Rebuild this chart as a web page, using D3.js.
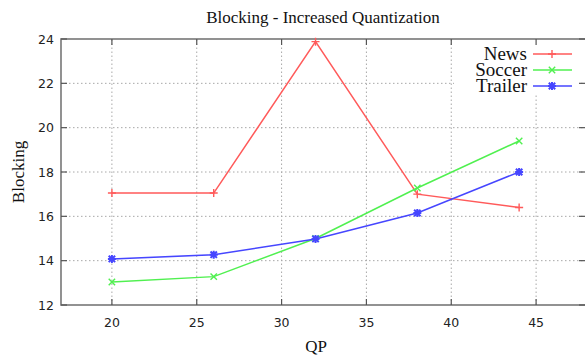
<!DOCTYPE html>
<html lang="en">
<head>
  <meta charset="UTF-8">
  <title>Blocking - Increased Quantization</title>
  <script src="https://d3js.org/d3.v7.min.js"></script>
  <style>
    body { margin: 0; background: #fff; }
    .tick-label { font-family: "DejaVu Sans", sans-serif; font-size: 12.5px; fill: #222; }
    .serif { font-family: "Liberation Serif", "Times New Roman", serif; fill: #111; }
    .grid { stroke: #a8a8a8; stroke-width: 1; stroke-dasharray: 1.5,2.5; }
  </style>
</head>
<body>
<script>
  // data
  const qp = [20, 26, 32, 38, 44];
  const news = [17.05, 17.05, 23.88, 17.0, 16.4];
  const soccer = [13.04, 13.28, 15.0, 17.28, 19.4];
  const trailer = [14.08, 14.27, 14.98, 16.15, 18.0];
  const xTicks = [20, 25, 30, 35, 40, 45];
  const yTicks = [12, 14, 16, 18, 20, 22, 24];

  const series = [
    { name: 'News', values: news, color: '#ff5a5a', mark: 'plus' },
    { name: 'Soccer', values: soccer, color: '#50f050', mark: 'cross' },
    { name: 'Trailer', values: trailer, color: '#4646ff', mark: 'star' }
  ];

  const width = 585, height = 355;
  const svg = d3.select('body').append('svg')
    .attr('width', width)
    .attr('height', height);

  const x = d3.scaleLinear().domain([17, 48]).range([61, 587]);
  const y = d3.scaleLinear().domain([12, 24]).range([305, 39]);

  // grid
  svg.append('g').selectAll('line')
    .data(xTicks)
    .enter().append('line')
    .attr('class', 'grid')
    .attr('x1', d => x(d)).attr('x2', d => x(d))
    .attr('y1', y(12)).attr('y2', y(24));
  svg.append('g').selectAll('line')
    .data(yTicks.slice(1, -1))
    .enter().append('line')
    .attr('class', 'grid')
    .attr('x1', x(17)).attr('x2', x(48))
    .attr('y1', d => y(d)).attr('y2', d => y(d));

  // key background covers the grid
  svg.append('rect')
    .attr('x', 454).attr('y', 40)
    .attr('width', 126).attr('height', 53)
    .attr('fill', '#fff');

  // frame
  svg.append('rect')
    .attr('x', x(17)).attr('y', y(24))
    .attr('width', x(48) - x(17)).attr('height', y(12) - y(24))
    .attr('fill', 'none')
    .attr('stroke', '#777')
    .attr('stroke-width', 1.6);

  // ticks, drawn inward on all four sides
  const tickLen = 6;
  const tickG = svg.append('g').attr('stroke', '#555').attr('stroke-width', 1.2);
  xTicks.forEach(t => {
    tickG.append('line').attr('x1', x(t)).attr('x2', x(t))
      .attr('y1', y(12)).attr('y2', y(12) - tickLen);
    tickG.append('line').attr('x1', x(t)).attr('x2', x(t))
      .attr('y1', y(24)).attr('y2', y(24) + tickLen);
  });
  yTicks.forEach(t => {
    tickG.append('line').attr('x1', x(17)).attr('x2', x(17) + tickLen)
      .attr('y1', y(t)).attr('y2', y(t));
    tickG.append('line').attr('x1', x(48)).attr('x2', x(48) - tickLen - 2)
      .attr('y1', y(t)).attr('y2', y(t));
  });

  // tick labels
  svg.append('g').selectAll('text')
    .data(xTicks)
    .enter().append('text')
    .attr('class', 'tick-label')
    .attr('x', d => x(d))
    .attr('y', 327)
    .attr('text-anchor', 'middle')
    .text(d => d);
  svg.append('g').selectAll('text')
    .data(yTicks)
    .enter().append('text')
    .attr('class', 'tick-label')
    .attr('x', 54)
    .attr('y', d => y(d) + 4.5)
    .attr('text-anchor', 'end')
    .text(d => d);

  // titles
  svg.append('text').attr('class', 'serif')
    .attr('x', 323).attr('y', 23)
    .attr('text-anchor', 'middle')
    .style('font-size', '17px')
    .text('Blocking - Increased Quantization');
  svg.append('text').attr('class', 'serif')
    .attr('x', 316).attr('y', 352)
    .attr('text-anchor', 'middle')
    .style('font-size', '17px')
    .text('QP');
  svg.append('text').attr('class', 'serif')
    .attr('transform', 'translate(24,172) rotate(-90)')
    .attr('text-anchor', 'middle')
    .style('font-size', '17px')
    .text('Blocking');

  // point marks
  function markPath(kind, s) {
    const plus = `M${-s},0L${s},0M0,${-s}L0,${s}`;
    const c = s * 0.8;
    const cross = `M${-c},${-c}L${c},${c}M${-c},${c}L${c},${-c}`;
    if (kind === 'plus') return plus;
    if (kind === 'cross') return cross;
    return plus + cross;
  }

  const line = d3.line().x((d, i) => x(qp[i])).y(d => y(d));

  series.forEach(s => {
    svg.append('path')
      .attr('d', line(s.values))
      .attr('fill', 'none')
      .attr('stroke', s.color)
      .attr('stroke-width', 1.5);
    svg.append('g').selectAll('path')
      .data(s.values)
      .enter().append('path')
      .attr('transform', (d, i) => `translate(${x(qp[i])},${y(d)})`)
      .attr('d', markPath(s.mark, 4))
      .attr('stroke', s.color)
      .attr('stroke-width', s.mark === 'star' ? 2 : 1.4)
      .attr('fill', 'none');
  });

  // key, lines set tight like the reference
  const key = svg.append('g');
  series.forEach((s, i) => {
    const ky = 54 + i * 16;
    key.append('text').attr('class', 'serif')
      .attr('x', 527).attr('y', ky + 6)
      .attr('text-anchor', 'end')
      .style('font-size', '19px')
      .text(s.name);
    key.append('line')
      .attr('x1', 533).attr('x2', 572)
      .attr('y1', ky).attr('y2', ky)
      .attr('stroke', s.color)
      .attr('stroke-width', 1.5);
    key.append('path')
      .attr('transform', `translate(552,${ky})`)
      .attr('d', markPath(s.mark, 4))
      .attr('stroke', s.color)
      .attr('stroke-width', s.mark === 'star' ? 2 : 1.4)
      .attr('fill', 'none');
  });
</script>
</body>
</html>
